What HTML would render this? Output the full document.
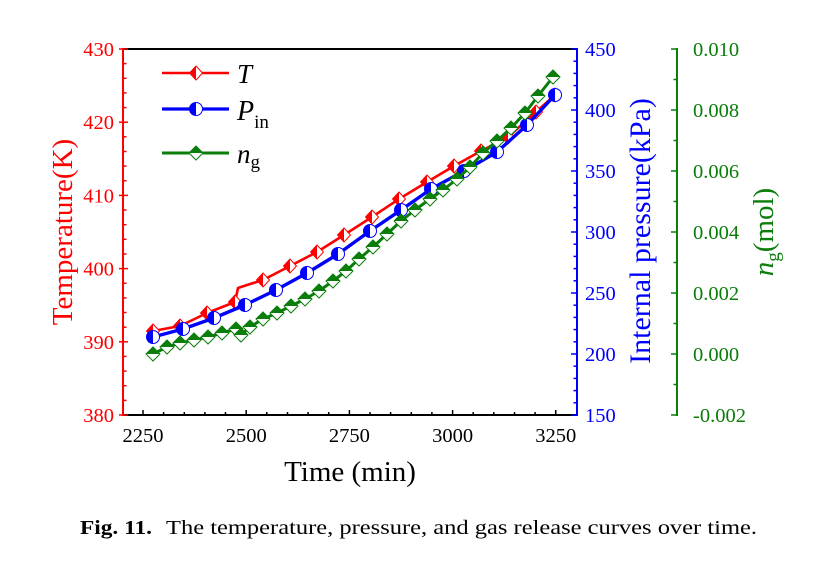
<!DOCTYPE html>
<html><head><meta charset="utf-8"><style>
html,body{margin:0;padding:0;background:#fff;}
svg{display:block;}
text{font-family:"Liberation Serif",serif;}
</style></head><body>
<svg width="831" height="562" viewBox="0 0 831 562" xmlns="http://www.w3.org/2000/svg">
<defs>
<g id="mT"><polygon points="0,-7 6.5,0 0,7 -6.5,0" fill="#fff" stroke="#ff0000" stroke-width="1"/><polygon points="0,-7 -6.5,0 0,7" fill="#ff0000"/></g>
<g id="mP"><circle r="6.5" fill="#fff" stroke="#0000ff" stroke-width="1"/><path d="M0,-6.5 A6.5,6.5 0 0 0 0,6.5 Z" fill="#0000ff"/></g>
<g id="mN"><polygon points="0,-7 7,0 0,7 -7,0" fill="#fff" stroke="#0a7d0a" stroke-width="1"/><polygon points="-7,0 0,-7 7,0" fill="#0a7d0a"/></g>
</defs>

<!-- frame -->
<line x1="123" y1="49" x2="577" y2="49" stroke="#000" stroke-width="2"/>
<line x1="123" y1="415" x2="577" y2="415" stroke="#000" stroke-width="2"/>

<!-- x ticks -->
<g stroke="#000" stroke-width="1.5">
<line x1="143" y1="415" x2="143" y2="410"/><line x1="246.2" y1="415" x2="246.2" y2="410"/><line x1="349.4" y1="415" x2="349.4" y2="410"/><line x1="452.6" y1="415" x2="452.6" y2="410"/><line x1="555.7" y1="415" x2="555.7" y2="410"/>
<line x1="163.6" y1="415" x2="163.6" y2="412"/><line x1="184.3" y1="415" x2="184.3" y2="412"/><line x1="204.9" y1="415" x2="204.9" y2="412"/><line x1="225.5" y1="415" x2="225.5" y2="412"/>
<line x1="266.8" y1="415" x2="266.8" y2="412"/><line x1="287.5" y1="415" x2="287.5" y2="412"/><line x1="308.1" y1="415" x2="308.1" y2="412"/><line x1="328.7" y1="415" x2="328.7" y2="412"/>
<line x1="370" y1="415" x2="370" y2="412"/><line x1="390.6" y1="415" x2="390.6" y2="412"/><line x1="411.3" y1="415" x2="411.3" y2="412"/><line x1="431.9" y1="415" x2="431.9" y2="412"/>
<line x1="473.2" y1="415" x2="473.2" y2="412"/><line x1="493.8" y1="415" x2="493.8" y2="412"/><line x1="514.5" y1="415" x2="514.5" y2="412"/><line x1="535.1" y1="415" x2="535.1" y2="412"/>
</g>
<g font-size="20.5" text-anchor="middle" fill="#000">
<text x="143" y="442">2250</text><text x="246.2" y="442">2500</text><text x="349.4" y="442">2750</text><text x="452.6" y="442">3000</text><text x="555.7" y="442">3250</text>
</g>
<text x="350" y="481" font-size="29" text-anchor="middle" fill="#000">Time (min)</text>

<!-- left red axis -->
<line x1="123" y1="48" x2="123" y2="416" stroke="#ff0000" stroke-width="2"/>
<g stroke="#ff0000" stroke-width="1.5">
<line x1="119" y1="49" x2="128" y2="49"/><line x1="119" y1="122.2" x2="128" y2="122.2"/><line x1="119" y1="195.4" x2="128" y2="195.4"/><line x1="119" y1="268.6" x2="128" y2="268.6"/><line x1="119" y1="341.8" x2="128" y2="341.8"/><line x1="119" y1="415" x2="128" y2="415"/>
<line x1="123" y1="63.6" x2="126.5" y2="63.6"/><line x1="123" y1="78.3" x2="126.5" y2="78.3"/><line x1="123" y1="92.9" x2="126.5" y2="92.9"/><line x1="123" y1="107.6" x2="126.5" y2="107.6"/>
<line x1="123" y1="136.8" x2="126.5" y2="136.8"/><line x1="123" y1="151.5" x2="126.5" y2="151.5"/><line x1="123" y1="166.1" x2="126.5" y2="166.1"/><line x1="123" y1="180.8" x2="126.5" y2="180.8"/>
<line x1="123" y1="210" x2="126.5" y2="210"/><line x1="123" y1="224.7" x2="126.5" y2="224.7"/><line x1="123" y1="239.3" x2="126.5" y2="239.3"/><line x1="123" y1="254" x2="126.5" y2="254"/>
<line x1="123" y1="283.2" x2="126.5" y2="283.2"/><line x1="123" y1="297.9" x2="126.5" y2="297.9"/><line x1="123" y1="312.5" x2="126.5" y2="312.5"/><line x1="123" y1="327.2" x2="126.5" y2="327.2"/>
<line x1="123" y1="356.4" x2="126.5" y2="356.4"/><line x1="123" y1="371.1" x2="126.5" y2="371.1"/><line x1="123" y1="385.7" x2="126.5" y2="385.7"/><line x1="123" y1="400.4" x2="126.5" y2="400.4"/>
</g>
<g font-size="20.5" text-anchor="end" fill="#ff0000">
<text x="114" y="56">430</text><text x="114" y="129.2">420</text><text x="114" y="202.4">410</text><text x="114" y="275.6">400</text><text x="114" y="348.8">390</text><text x="114" y="422">380</text>
</g>
<text transform="translate(72,232) rotate(-90)" font-size="29" text-anchor="middle" fill="#ff0000">Temperature(K)</text>

<!-- right blue axis -->
<line x1="577" y1="48" x2="577" y2="416" stroke="#0000ff" stroke-width="2"/>
<g stroke="#0000ff" stroke-width="1.5">
<line x1="571" y1="49" x2="577" y2="49"/><line x1="571" y1="110" x2="577" y2="110"/><line x1="571" y1="171" x2="577" y2="171"/><line x1="571" y1="232" x2="577" y2="232"/><line x1="571" y1="293" x2="577" y2="293"/><line x1="571" y1="354" x2="577" y2="354"/><line x1="571" y1="415" x2="577" y2="415"/>
<line x1="573.5" y1="61.2" x2="577" y2="61.2"/><line x1="573.5" y1="73.4" x2="577" y2="73.4"/><line x1="573.5" y1="85.6" x2="577" y2="85.6"/><line x1="573.5" y1="97.8" x2="577" y2="97.8"/>
<line x1="573.5" y1="122.2" x2="577" y2="122.2"/><line x1="573.5" y1="134.4" x2="577" y2="134.4"/><line x1="573.5" y1="146.6" x2="577" y2="146.6"/><line x1="573.5" y1="158.8" x2="577" y2="158.8"/>
<line x1="573.5" y1="183.2" x2="577" y2="183.2"/><line x1="573.5" y1="195.4" x2="577" y2="195.4"/><line x1="573.5" y1="207.6" x2="577" y2="207.6"/><line x1="573.5" y1="219.8" x2="577" y2="219.8"/>
<line x1="573.5" y1="244.2" x2="577" y2="244.2"/><line x1="573.5" y1="256.4" x2="577" y2="256.4"/><line x1="573.5" y1="268.6" x2="577" y2="268.6"/><line x1="573.5" y1="280.8" x2="577" y2="280.8"/>
<line x1="573.5" y1="305.2" x2="577" y2="305.2"/><line x1="573.5" y1="317.4" x2="577" y2="317.4"/><line x1="573.5" y1="329.6" x2="577" y2="329.6"/><line x1="573.5" y1="341.8" x2="577" y2="341.8"/>
<line x1="573.5" y1="366.2" x2="577" y2="366.2"/><line x1="573.5" y1="378.4" x2="577" y2="378.4"/><line x1="573.5" y1="390.6" x2="577" y2="390.6"/><line x1="573.5" y1="402.8" x2="577" y2="402.8"/>
</g>
<g font-size="20.5" fill="#0000ff">
<text x="585" y="56">450</text><text x="585" y="117">400</text><text x="585" y="178">350</text><text x="585" y="239">300</text><text x="585" y="300">250</text><text x="585" y="361">200</text><text x="585" y="422">150</text>
</g>
<text transform="translate(650,231) rotate(-90)" font-size="30" text-anchor="middle" fill="#0000ff">Internal pressure(kPa)</text>

<!-- green axis -->
<line x1="677" y1="48" x2="677" y2="416" stroke="#0a7d0a" stroke-width="2"/>
<g stroke="#0a7d0a" stroke-width="1.5">
<line x1="671" y1="49" x2="677" y2="49"/><line x1="671" y1="110" x2="677" y2="110"/><line x1="671" y1="171" x2="677" y2="171"/><line x1="671" y1="232" x2="677" y2="232"/><line x1="671" y1="293" x2="677" y2="293"/><line x1="671" y1="354" x2="677" y2="354"/><line x1="671" y1="415" x2="677" y2="415"/>
<line x1="673.5" y1="79.5" x2="677" y2="79.5"/><line x1="673.5" y1="140.5" x2="677" y2="140.5"/><line x1="673.5" y1="201.5" x2="677" y2="201.5"/><line x1="673.5" y1="262.5" x2="677" y2="262.5"/><line x1="673.5" y1="323.5" x2="677" y2="323.5"/><line x1="673.5" y1="384.5" x2="677" y2="384.5"/>
</g>
<g font-size="20.5" fill="#0a7d0a">
<text x="693" y="56">0.010</text><text x="693" y="117">0.008</text><text x="693" y="178">0.006</text><text x="693" y="239">0.004</text><text x="693" y="300">0.002</text><text x="693" y="361">0.000</text><text x="693" y="422">-0.002</text>
</g>
<text transform="translate(773,232) rotate(-90)" font-size="29" text-anchor="middle" fill="#0a7d0a"><tspan font-style="italic">n</tspan><tspan font-size="19" dy="6">g</tspan><tspan dy="-6">(mol)</tspan></text>

<!-- red series -->
<polyline fill="none" stroke="#ff0000" stroke-width="2.6" stroke-linejoin="round" points="153,331 180,326 207,313 235,302 238,288 247,285 263,280 290,266 317,252 344,235 372,217 399,199 427,182 454,166 481,151 508,137 536,112 555,95"/>
<g>
<use href="#mT" x="153" y="331"/><use href="#mT" x="180" y="326"/><use href="#mT" x="207" y="313"/><use href="#mT" x="235" y="302"/><use href="#mT" x="263" y="280"/><use href="#mT" x="290" y="266"/><use href="#mT" x="317" y="252"/><use href="#mT" x="344" y="235"/><use href="#mT" x="372" y="217"/><use href="#mT" x="399" y="199"/><use href="#mT" x="427" y="182"/><use href="#mT" x="454" y="166"/><use href="#mT" x="481" y="151"/><use href="#mT" x="508" y="137"/><use href="#mT" x="536" y="112"/><use href="#mT" x="555" y="95"/>
</g>

<!-- blue series -->
<polyline fill="none" stroke="#0000ff" stroke-width="3.4" stroke-linejoin="round" points="153,337 183,329 214,318 245,305 276,290 307,273 338,254 370,231 401,210 431,189 464,171 497,152 527,125 555,95"/>
<g>
<use href="#mP" x="153" y="337"/><use href="#mP" x="183" y="329"/><use href="#mP" x="214" y="318"/><use href="#mP" x="245" y="305"/><use href="#mP" x="276" y="290"/><use href="#mP" x="307" y="273"/><use href="#mP" x="338" y="254"/><use href="#mP" x="370" y="231"/><use href="#mP" x="401" y="210"/><use href="#mP" x="431" y="189"/><use href="#mP" x="464" y="171"/><use href="#mP" x="497" y="152"/><use href="#mP" x="527" y="125"/><use href="#mP" x="555" y="95"/>
</g>

<!-- green series -->
<polyline fill="none" stroke="#0a7d0a" stroke-width="3" stroke-linejoin="round" points="153,354 167,347 180,343 194,340 208,337 222,333 236,329 241,335 250,327 263,319 277,313 291,306 305,299 319,291 333,281 346,271 359,259 373,247 387,234 401,221 415,210 430,199 443,190 457,179 470,167 483,153 497,141 511,128 525,113 538,96 553,77"/>
<g>
<use href="#mN" x="153" y="354"/><use href="#mN" x="167" y="347"/><use href="#mN" x="180" y="343"/><use href="#mN" x="194" y="340"/><use href="#mN" x="208" y="337"/><use href="#mN" x="222" y="333"/><use href="#mN" x="236" y="329"/><use href="#mN" x="241" y="335"/><use href="#mN" x="250" y="327"/><use href="#mN" x="263" y="319"/><use href="#mN" x="277" y="313"/><use href="#mN" x="291" y="306"/><use href="#mN" x="305" y="299"/><use href="#mN" x="319" y="291"/><use href="#mN" x="333" y="281"/><use href="#mN" x="346" y="271"/><use href="#mN" x="359" y="259"/><use href="#mN" x="373" y="247"/><use href="#mN" x="387" y="234"/><use href="#mN" x="401" y="221"/><use href="#mN" x="415" y="210"/><use href="#mN" x="430" y="199"/><use href="#mN" x="443" y="190"/><use href="#mN" x="457" y="179"/><use href="#mN" x="470" y="167"/><use href="#mN" x="483" y="153"/><use href="#mN" x="497" y="141"/><use href="#mN" x="511" y="128"/><use href="#mN" x="525" y="113"/><use href="#mN" x="538" y="96"/><use href="#mN" x="553" y="77"/>
</g>

<!-- legend -->
<line x1="162" y1="73" x2="229" y2="73" stroke="#ff0000" stroke-width="2.6"/>
<use href="#mT" x="196" y="73"/>
<text x="237" y="83" font-size="27" font-style="italic" fill="#000">T</text>
<line x1="162" y1="109" x2="229" y2="109" stroke="#0000ff" stroke-width="3.2"/>
<use href="#mP" x="196" y="109"/>
<text x="237" y="120" font-size="28" fill="#000"><tspan font-style="italic">P</tspan><tspan font-size="19" dy="8">in</tspan></text>
<line x1="162" y1="153" x2="229" y2="153" stroke="#0a7d0a" stroke-width="3"/>
<use href="#mN" x="196" y="153"/>
<text x="237" y="163" font-size="27" fill="#000"><tspan font-style="italic">n</tspan><tspan font-size="19" dy="5">g</tspan></text>

<!-- caption -->
<text x="80" y="534" font-size="19.5" font-weight="bold" fill="#000" textLength="72" lengthAdjust="spacingAndGlyphs">Fig. 11.</text>
<text x="166" y="534" font-size="19.5" fill="#000" textLength="591" lengthAdjust="spacingAndGlyphs">The temperature, pressure, and gas release curves over time.</text>
</svg>
</body></html>
